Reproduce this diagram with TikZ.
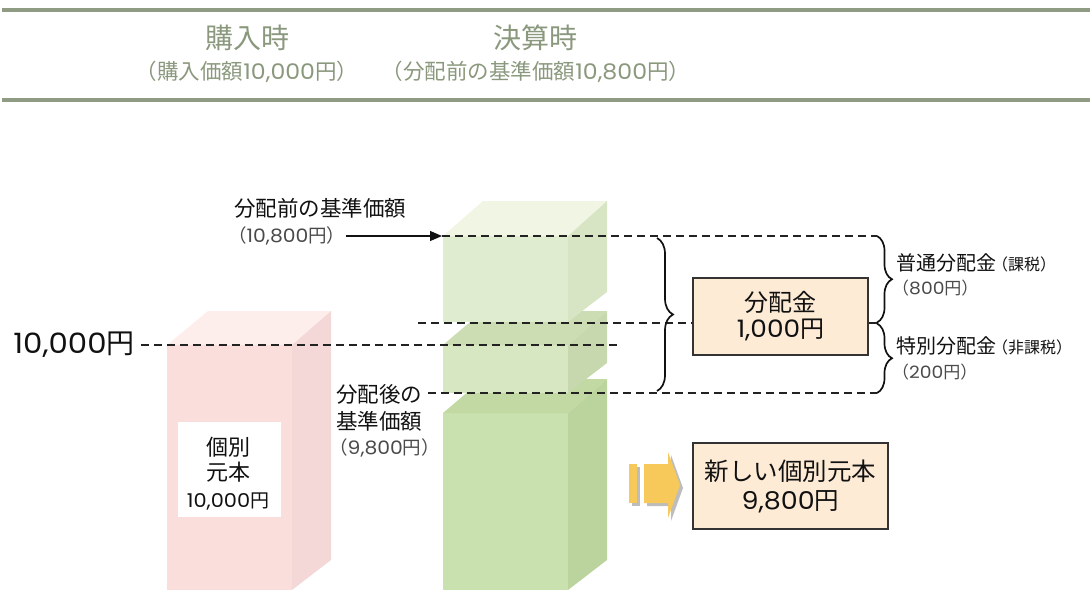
\documentclass[tikz,border=0pt]{standalone}
\usepackage{fontspec}
\setmainfont{Noto Sans CJK JP}
\newfontfamily\digitfont[FakeStretch=1.1]{Poppins}
\newcommand\dg[1]{{\digitfont #1}}
\newcommand\fsz[2]{\fontsize{#1}{#2}\selectfont}
\usetikzlibrary{arrows.meta,decorations.pathreplacing,calc}
\definecolor{hdr}{HTML}{8A987D}
\definecolor{hdrline}{HTML}{8F9B82}
\definecolor{amtgray}{HTML}{4A4A4A}
\definecolor{txtk}{HTML}{111111}
\definecolor{dashk}{HTML}{222222}
\definecolor{boxline}{HTML}{333333}
\definecolor{peach}{HTML}{FDEBD6}
\definecolor{pinkfront}{HTML}{FADEDC}
\definecolor{pinktop}{HTML}{FDEEEC}
\definecolor{pinkside}{HTML}{F4D8D8}
\definecolor{gAtop}{HTML}{F0F5E4}
\definecolor{gAfront}{HTML}{E0ECCF}
\definecolor{gAside}{HTML}{D8E5C4}
\definecolor{gBtop}{HTML}{CCDDB4}
\definecolor{gBfront}{HTML}{D6E7C1}
\definecolor{gBside}{HTML}{C7D8AE}
\definecolor{gCtop}{HTML}{C2D9A3}
\definecolor{gCfront}{HTML}{C9E1AE}
\definecolor{gCside}{HTML}{BBD39D}
\definecolor{yel}{HTML}{F7C85A}
\definecolor{shadowgray}{HTML}{BDBDBD}
\begin{document}
\begin{tikzpicture}[x=1pt,y=-1pt,
  hdrtext/.style={text=hdr, inner sep=0pt},
  lbl/.style={inner sep=0pt, anchor=west, text=txtk},
  amt/.style={inner sep=0pt, anchor=west, text=amtgray},
  ctext/.style={inner sep=0pt, text=txtk},
  guide/.style={draw=dashk, line width=1.2pt, dash pattern=on 8pt off 5pt},
  bracek/.style={draw=txtk, decorate, decoration={brace, amplitude=#1}, line width=1.7pt},
  infobox/.style={draw=boxline, fill=peach, line width=1.2pt, inner sep=0pt, align=center, text=txtk},
]
\useasboundingbox (0,0) rectangle (1090,590);

% header
\draw[hdrline, line width=3.5pt] (2,10) -- (1090,10);
\draw[hdrline, line width=3.5pt] (2,100) -- (1090,100);
\node[hdrtext, font=\fsz{28}{30}] (t1) at (247,38) {購入時};
\node[hdrtext, font=\fsz{21.5}{24}] (s1) at (247,72) {（購入価額\dg{10,000}円）};
\node[hdrtext, font=\fsz{28}{30}] (t2) at (535,38) {決算時};
\node[hdrtext, font=\fsz{21.5}{24}] (s2) at (536,72) {（分配前の基準価額\dg{10,800}円）};

% pink cuboid
\fill[pinkfront] (167,345) rectangle (292,590);
\fill[pinktop] (167,345) -- (208,311) -- (331,311) -- (292,345) -- cycle;
\fill[pinkside] (292,345) -- (331,311) -- (331,560) -- (292,590) -- cycle;
\fill[white] (178,422) rectangle (281,517);
\node[ctext, font=\fsz{22}{22}] (lb1) at (228,447) {個別};
\node[ctext, font=\fsz{22}{22}] (lb2) at (228,472) {元本};
\node[ctext, font=\fsz{19}{19}] (lb3) at (228,502) {\dg{10,000}円};

% green column: bottom block
\fill[gCfront] (443,413) rectangle (568,590);
\fill[gCtop] (443,413) -- (483,379) -- (607,379) -- (568,413) -- cycle;
\fill[gCside] (568,413) -- (607,379) -- (607,560) -- (568,590) -- cycle;
% middle block
\fill[gBfront] (443,345) rectangle (568,393);
\fill[gBtop] (443,345) -- (483,311) -- (607,311) -- (568,345) -- cycle;
\fill[gBside] (568,345) -- (607,311) -- (607,363) -- (568,393) -- cycle;
% top block
\fill[gAfront] (443,236) rectangle (568,322);
\fill[gAtop] (443,236) -- (483,201) -- (607,201) -- (568,236) -- cycle;
\fill[gAside] (568,236) -- (607,201) -- (607,292) -- (568,322) -- cycle;

% coordinates
\coordinate (aTip) at (442,236);
\coordinate (aEnd) at (877,236);
\coordinate (bStart) at (418,323);
\coordinate (bEnd) at (877,323);
\coordinate (cEnd) at (617,345);
\coordinate (dEnd) at (877,393);
\coordinate (bigTop) at (657,238);
\coordinate (bigBot) at (657,391);
\coordinate (rTop) at (877,236);
\coordinate (rMidA) at (877,322.5);
\coordinate (rMidB) at (877,323.5);
\coordinate (rBot) at (877,393);

% labels
\node[lbl, font=\fsz{21.5}{22}] (pre) at (234,208) {分配前の基準価額};
\node[amt, font=\fsz{18.5}{19}] (preamt) at (228,236) {（\dg{10,800}円）};
\node[ctext, font=\fsz{28}{28}] (ten) at (74,345) {\dg{10,000}円};
\node[lbl, font=\fsz{21.5}{22}] (post1) at (336,394) {分配後の};
\node[lbl, font=\fsz{21.5}{22}] (post2) at (336,421) {基準価額};
\node[amt, font=\fsz{18.5}{19}] (postamt) at (329,448) {（\dg{9,800}円）};

% boxes
\node[infobox, font=\fsz{24}{26}, minimum width=175pt, minimum height=77pt] (dist) at (780.5,316.5) {分配金\\\dg{1,000}円};
\node[infobox, font=\fsz{24.5}{29}, minimum width=195pt, minimum height=86pt] (newp) at (790.5,486) {新しい個別元本\\\dg{9,800}円};

% right labels
\node[lbl, font=\fsz{20}{20}] (ord) at (896,263) {普通分配金{\fsz{16}{16}\kern-0.25em（課税）}};
\node[amt, font=\fsz{17}{17}] (ordamt) at (892,288) {（\dg{800}円）};
\node[lbl, font=\fsz{20}{20}] (spc) at (896,346) {特別分配金{\fsz{16}{16}\kern-0.25em（非課税）}};
\node[amt, font=\fsz{17}{17}] (spcamt) at (892,372) {（\dg{200}円）};

% arrow and guides
\draw[draw=txtk, line width=1.2pt, -{Triangle[length=12pt,width=10pt]}] (preamt.east |- aTip) -- (aTip);
\draw[guide] (aTip) -- (aEnd);
\draw[guide] (bStart) -- (dist.west |- bStart);
\draw[guide] (dist.east |- bEnd) -- (bEnd);
\draw[guide, line width=1.6pt] ([xshift=6pt]ten.east |- cEnd) -- (cEnd);
\draw[guide] ([xshift=6pt]post1.east |- dEnd) -- (dEnd);

% braces
\draw[bracek=16pt] (bigTop) -- (bigBot);
\draw[bracek=15pt] (rTop) -- (rMidA);
\draw[bracek=15pt] (rMidB) -- (rBot);

% yellow arrow
\fill[shadowgray] (632,467) rectangle (640,506);
\fill[yel] (629,464) rectangle (637,503);
\fill[shadowgray] (647,467) -- (671,467) -- (671,455) -- (683,488) -- (671,521) -- (671,506) -- (647,506) -- cycle;
\fill[yel] (644,464) -- (668,464) -- (668,452) -- (680,485) -- (668,518) -- (668,503) -- (644,503) -- cycle;
\end{tikzpicture}
\end{document}
